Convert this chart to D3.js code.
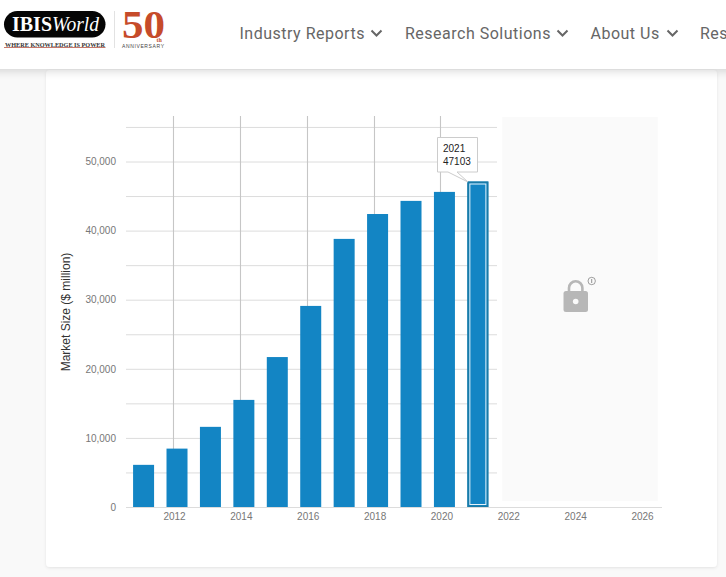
<!DOCTYPE html>
<html><head><meta charset="utf-8">
<script src="https://cdn.jsdelivr.net/npm/d3@7/dist/d3.min.js"></script>
<style>
html,body{margin:0;padding:0;background:#f9f9f9;overflow:hidden}
svg{display:block}
text{font-family:"Liberation Sans",Arial,sans-serif}
</style></head><body>
<svg id="c" width="726" height="577"></svg>
<script>
const years=[2011,2012,2013,2014,2015,2016,2017,2018,2019,2020,2021];
const marketSize=[6100,8450,11600,15500,21700,29100,38800,42400,44300,45600,47103];
const yTicks=[0,10000,20000,30000,40000,50000];
const gridValues=[5000,10000,15000,20000,25000,30000,35000,40000,45000,50000,55000];
const xTicks=[2012,2014,2016,2018,2020,2022,2024,2026];
const verticalGridYears=[2012,2014,2016,2018,2020];
const navItems=["Industry Reports","Research Solutions","About Us","Res"];
const navLeft=[239.5,405,590.5,700];
const chevronLeft=[370,556,666];

const svg=d3.select("#c");
const defs=svg.append("defs");
const f=defs.append("filter").attr("id","sh").attr("x","-5%").attr("y","-20%").attr("width","110%").attr("height","150%");
f.append("feDropShadow").attr("dx",0).attr("dy",2).attr("stdDeviation",5).attr("flood-color","#000").attr("flood-opacity",0.16);
const f2=defs.append("filter").attr("id","sh2").attr("x","-3%").attr("y","-3%").attr("width","106%").attr("height","106%");
f2.append("feDropShadow").attr("dx",0).attr("dy",1).attr("stdDeviation",1.5).attr("flood-color","#000").attr("flood-opacity",0.09);

// card
svg.append("rect").attr("x",46).attr("y",70).attr("width",671).attr("height",497).attr("rx",4).attr("fill","#fff").attr("filter","url(#sh2)");
// header
svg.append("rect").attr("x",-20).attr("y",-10).attr("width",770).attr("height",79).attr("fill","#fff").attr("filter","url(#sh)");

// logo
const logo=svg.append("g");
const serif="'Liberation Serif'";
logo.append("rect").attr("x",4).attr("y",11).attr("width",101.5).attr("height",26.5).attr("rx",13.25).attr("fill","#050505");
logo.append("text").attr("x",12).attr("y",31).style("font-family",serif).attr("font-weight","700").attr("font-size",20).attr("fill","#fff").attr("textLength",40).attr("lengthAdjust","spacingAndGlyphs").text("IBIS");
logo.append("text").attr("x",52).attr("y",31).style("font-family",serif).attr("font-style","italic").attr("font-size",21).attr("fill","#fff").attr("textLength",47).attr("lengthAdjust","spacingAndGlyphs").text("World");
logo.append("text").attr("x",5).attr("y",46.5).style("font-family",serif).attr("font-weight","700").attr("font-size",6).attr("fill","#333").attr("textLength",100).attr("lengthAdjust","spacingAndGlyphs").text("WHERE KNOWLEDGE IS POWER");
logo.append("line").attr("x1",4).attr("x2",105.5).attr("y1",47.5).attr("y2",47.5).attr("stroke","#c0695a").attr("stroke-width",0.9);
logo.append("line").attr("x1",114.5).attr("x2",114.5).attr("y1",11).attr("y2",48).attr("stroke","#e2e2e2");
logo.append("text").attr("x",122).attr("y",38).style("font-family",serif).attr("font-weight","700").attr("font-size",40).attr("fill","#c64b2a").attr("textLength",43).attr("lengthAdjust","spacingAndGlyphs").text("50");
logo.append("text").attr("x",156.5).attr("y",41.5).style("font-family",serif).attr("font-weight","700").attr("font-size",6).attr("fill","#c64b2a").text("th");
logo.append("text").attr("x",122).attr("y",48).attr("font-size",5).attr("fill","#444").attr("textLength",42).text("ANNIVERSARY");

// nav
const nav=svg.append("g");
nav.selectAll("text").data(navItems).join("text")
  .attr("x",(d,i)=>navLeft[i]).attr("y",39)
  .style("font-family","Roboto").attr("font-size",16).attr("letter-spacing",0.5).attr("fill","#666").text(d=>d);
nav.selectAll("path").data(chevronLeft).join("path")
  .attr("d",d=>d3.line()([[d+1.5,30.5],[d+6.5,35.5],[d+11.5,30.5]]))
  .attr("fill","none").attr("stroke","#666").attr("stroke-width",2);

// scales
const x=d3.scaleLinear().domain([2012,2026]).range([174,642]);
const y=d3.scaleLinear().domain([0,50000]).range([507,161.5]);
const barW=21;
const barCenter=d=>x(d+0.09);

// gridlines
svg.append("g").selectAll("line").data(gridValues).join("line")
  .attr("x1",126).attr("x2",497).attr("y1",d=>y(d)+.5).attr("y2",d=>y(d)+.5)
  .attr("stroke","#dcdcdc");
svg.append("g").selectAll("line").data(verticalGridYears).join("line")
  .attr("x1",d=>Math.round(x(d))-.5).attr("x2",d=>Math.round(x(d))-.5).attr("y1",116).attr("y2",507)
  .attr("stroke","#c6c6c6").attr("stroke-width",1.1);

// locked region
svg.append("rect").attr("x",x(2022)-6).attr("y",117).attr("width",155.5).attr("height",384).attr("fill","#fafafa");

// bars
svg.append("g").selectAll("rect").data(years).join("rect")
  .attr("x",d=>barCenter(d)-barW/2).attr("width",barW)
  .attr("y",(d,i)=>y(marketSize[i])).attr("height",(d,i)=>y(0)-y(marketSize[i]))
  .attr("fill","#1385c4");
// highlight on last bar
const last=years.length-1;
svg.append("rect").attr("x",barCenter(years[last])-barW/2+.75).attr("width",barW-1.5)
  .attr("y",y(marketSize[last])+.75).attr("height",y(0)-y(marketSize[last])-1.5)
  .attr("fill","none").attr("stroke","#1a7aa6").attr("stroke-width",1.5);
svg.append("rect").attr("x",barCenter(years[last])-barW/2+2.5).attr("width",barW-5)
  .attr("y",y(marketSize[last])+2.5).attr("height",y(0)-y(marketSize[last])-5)
  .attr("fill","none").attr("stroke","#e6f3fa").attr("stroke-width",1);

// axes
const xAxis=svg.append("g").attr("transform","translate(0,507)")
  .call(d3.axisBottom(x).tickValues(xTicks).tickFormat(d3.format("d")).tickSize(0).tickPadding(6));
xAxis.select(".domain").remove();
xAxis.selectAll("text").attr("font-size",10).attr("fill","#777").style("font-family","'Liberation Sans'").attr("dy","0.71em");
svg.append("line").attr("x1",126).attr("x2",662).attr("y1",507.5).attr("y2",507.5).attr("stroke","#dcdcdc");

const yAxis=svg.append("g").attr("transform","translate(116,0)")
  .call(d3.axisLeft(y).tickValues(yTicks).tickFormat(d3.format(",")).tickSize(0).tickPadding(0));
yAxis.select(".domain").remove();
yAxis.selectAll("text").attr("font-size",10).attr("fill","#777").style("font-family","'Liberation Sans'");

svg.append("text").attr("transform","translate(70,312) rotate(-90)").attr("text-anchor","middle")
  .attr("font-size",12).attr("fill","#333").text("Market Size ($ million)");

// tooltip
const tip=svg.append("g");
const tx=437.5,ty=137.5,tw=40,th=34.5;
tip.append("path").attr("d",`M${tx},${ty}h${tw}v${th}h-${tw-19.5}l11,10l-20,-10h-10.5z`)
  .attr("fill","#fff").attr("stroke","#ccc").attr("stroke-width",1);
tip.append("text").attr("x",443).attr("y",152).attr("font-size",10).attr("fill","#222").text(years[last]);
tip.append("text").attr("x",443).attr("y",165).attr("font-size",10).attr("fill","#222").text(marketSize[last]);

// lock
const lock=svg.append("g");
lock.append("path").attr("d","M569,291v-3a6.7,6.7 0 0 1 13.4,0v3").attr("fill","none").attr("stroke","#b7b7b7").attr("stroke-width",2.6);
lock.append("rect").attr("x",563.5).attr("y",291).attr("width",24.5).attr("height",21).attr("rx",2.5).attr("fill","#b7b7b7");
lock.append("circle").attr("cx",575.7).attr("cy",301.5).attr("r",2.8).attr("fill","#fafafa");
lock.append("circle").attr("cx",591.7).attr("cy",281).attr("r",3.7).attr("fill","none").attr("stroke","#777").attr("stroke-width",.7);
lock.append("line").attr("x1",591.7).attr("x2",591.7).attr("y1",279).attr("y2",283).attr("stroke","#666").attr("stroke-width",.7);
</script>
</body></html>
